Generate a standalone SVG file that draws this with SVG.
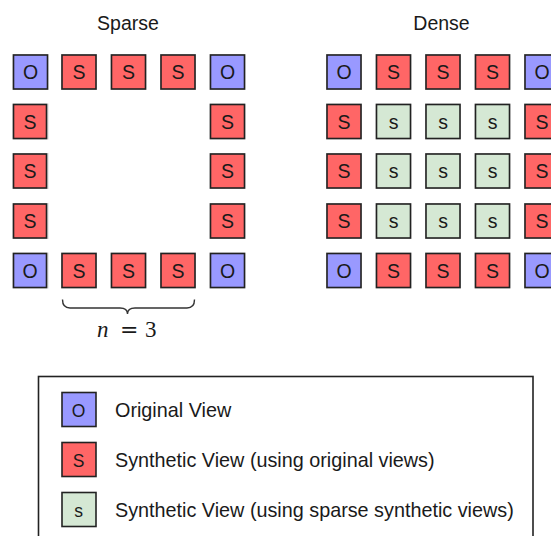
<svg xmlns="http://www.w3.org/2000/svg" width="551" height="536" viewBox="0 0 551 536">
<defs>
<style>
text{font-family:"Liberation Sans",Arial,sans-serif;fill:#1a1a1a}
.t{font-size:19.5px;text-anchor:middle}
.b{stroke:#222;stroke-width:1.6}
.sh{fill:#d6d6d6}
.O{fill:#9999ff}
.S{fill:#ff6666}
.g{fill:#d5e8d4}
.l{font-size:19.5px;text-anchor:middle}
.ll{font-size:17.5px;text-anchor:middle}
.lg{font-size:19.8px}
.m{font-family:"Liberation Serif","DejaVu Serif",serif;font-size:23px}
</style>
<g id="cell">
<rect class="sh" x="-1" y="-1" width="36" height="36"/>
</g>
</defs>
<rect width="551" height="536" fill="#fff"/>
<text class="t" x="128" y="30">Sparse</text>
<text class="t" x="441.5" y="30">Dense</text>

<g id="sparse">
<g id="sp-r0">
<g id="sp00"><use href="#cell" x="13.5" y="55"/><rect class="b O" x="13.5" y="55" width="34" height="34"/><text class="l" x="30.5" y="79">O</text></g>
<g id="sp01"><use href="#cell" x="62" y="55"/><rect class="b S" x="62" y="55" width="34" height="34"/><text class="l" x="79" y="79">S</text></g>
<g id="sp02"><use href="#cell" x="111.5" y="55"/><rect class="b S" x="111.5" y="55" width="34" height="34"/><text class="l" x="128.5" y="79">S</text></g>
<g id="sp03"><use href="#cell" x="161" y="55"/><rect class="b S" x="161" y="55" width="34" height="34"/><text class="l" x="178" y="79">S</text></g>
<g id="sp04"><use href="#cell" x="210.5" y="55"/><rect class="b O" x="210.5" y="55" width="34" height="34"/><text class="l" x="227.5" y="79">O</text></g>
</g>
<g id="sp10"><use href="#cell" x="13.5" y="104.5"/><rect class="b S" x="13.5" y="104.5" width="33" height="34"/><text class="l" x="30" y="128.5">S</text></g>
<g id="sp14"><use href="#cell" x="210.5" y="104.5"/><rect class="b S" x="210.5" y="104.5" width="34" height="34"/><text class="l" x="227.5" y="128.5">S</text></g>
<g id="sp20"><use href="#cell" x="13.5" y="154"/><rect class="b S" x="13.5" y="154" width="33" height="34"/><text class="l" x="30" y="178">S</text></g>
<g id="sp24"><use href="#cell" x="210.5" y="154"/><rect class="b S" x="210.5" y="154" width="34" height="34"/><text class="l" x="227.5" y="178">S</text></g>
<g id="sp30"><use href="#cell" x="13.5" y="204"/><rect class="b S" x="13.5" y="204" width="33" height="34"/><text class="l" x="30" y="228">S</text></g>
<g id="sp34"><use href="#cell" x="210.5" y="204"/><rect class="b S" x="210.5" y="204" width="34" height="34"/><text class="l" x="227.5" y="228">S</text></g>
<g id="sp-r4">
<g id="sp40"><use href="#cell" x="13.5" y="253.5"/><rect class="b O" x="13.5" y="253.5" width="33" height="34"/><text class="l" x="30" y="277.5">O</text></g>
<g id="sp41"><use href="#cell" x="62" y="253.5"/><rect class="b S" x="62" y="253.5" width="34" height="34"/><text class="l" x="79" y="277.5">S</text></g>
<g id="sp42"><use href="#cell" x="111.5" y="253.5"/><rect class="b S" x="111.5" y="253.5" width="34" height="34"/><text class="l" x="128.5" y="277.5">S</text></g>
<g id="sp43"><use href="#cell" x="161" y="253.5"/><rect class="b S" x="161" y="253.5" width="34" height="34"/><text class="l" x="178" y="277.5">S</text></g>
<g id="sp44"><use href="#cell" x="210.5" y="253.5"/><rect class="b O" x="210.5" y="253.5" width="34" height="34"/><text class="l" x="227.5" y="277.5">O</text></g>
</g>
</g>

<g id="brace">
<path d="M62.5,299.5 Q62.5,308 70,308 L120,308 Q127.5,308 127.5,314 Q127.5,308 135,308 L187,308 Q194.5,308 194.5,299.5" fill="none" stroke="#333" stroke-width="1.4"/>
<text class="m" x="97" y="337" font-style="italic">n</text>
<text x="120" y="337" style="font-family:'DejaVu Serif',serif;font-size:22px;font-weight:300">=</text>
<text class="m" x="145" y="337">3</text>
</g>

<g id="dense">
<g id="dn-r0">
<g id="d00"><use href="#cell" x="327" y="55"/><rect class="b O" x="327" y="55" width="34" height="34"/><text class="l" x="344" y="79">O</text></g>
<g id="d01"><use href="#cell" x="376.5" y="55"/><rect class="b S" x="376.5" y="55" width="34" height="34"/><text class="l" x="393.5" y="79">S</text></g>
<g id="d02"><use href="#cell" x="426" y="55"/><rect class="b S" x="426" y="55" width="34" height="34"/><text class="l" x="443" y="79">S</text></g>
<g id="d03"><use href="#cell" x="475.5" y="55"/><rect class="b S" x="475.5" y="55" width="34" height="34"/><text class="l" x="492.5" y="79">S</text></g>
<g id="d04"><use href="#cell" x="525" y="55"/><rect class="b O" x="525" y="55" width="34" height="34"/><text class="l" x="542" y="79">O</text></g>
</g>
<g id="dn-r1">
<g id="d10"><use href="#cell" x="327" y="104.5"/><rect class="b S" x="327" y="104.5" width="34" height="34"/><text class="l" x="344" y="128.5">S</text></g>
<g id="d11"><use href="#cell" x="376.5" y="104.5"/><rect class="b g" x="376.5" y="104.5" width="34" height="34"/><text class="l" x="393.5" y="128.5">s</text></g>
<g id="d12"><use href="#cell" x="426" y="104.5"/><rect class="b g" x="426" y="104.5" width="34" height="34"/><text class="l" x="443" y="128.5">s</text></g>
<g id="d13"><use href="#cell" x="475.5" y="104.5"/><rect class="b g" x="475.5" y="104.5" width="34" height="34"/><text class="l" x="492.5" y="128.5">s</text></g>
<g id="d14"><use href="#cell" x="525" y="104.5"/><rect class="b S" x="525" y="104.5" width="34" height="34"/><text class="l" x="542" y="128.5">S</text></g>
</g>
<g id="dn-r2">
<g id="d20"><use href="#cell" x="327" y="154"/><rect class="b S" x="327" y="154" width="34" height="34"/><text class="l" x="344" y="178">S</text></g>
<g id="d21"><use href="#cell" x="376.5" y="154"/><rect class="b g" x="376.5" y="154" width="34" height="34"/><text class="l" x="393.5" y="178">s</text></g>
<g id="d22"><use href="#cell" x="426" y="154"/><rect class="b g" x="426" y="154" width="34" height="34"/><text class="l" x="443" y="178">s</text></g>
<g id="d23"><use href="#cell" x="475.5" y="154"/><rect class="b g" x="475.5" y="154" width="34" height="34"/><text class="l" x="492.5" y="178">s</text></g>
<g id="d24"><use href="#cell" x="525" y="154"/><rect class="b S" x="525" y="154" width="34" height="34"/><text class="l" x="542" y="178">S</text></g>
</g>
<g id="dn-r3">
<g id="d30"><use href="#cell" x="327" y="204"/><rect class="b S" x="327" y="204" width="34" height="34"/><text class="l" x="344" y="228">S</text></g>
<g id="d31"><use href="#cell" x="376.5" y="204"/><rect class="b g" x="376.5" y="204" width="34" height="34"/><text class="l" x="393.5" y="228">s</text></g>
<g id="d32"><use href="#cell" x="426" y="204"/><rect class="b g" x="426" y="204" width="34" height="34"/><text class="l" x="443" y="228">s</text></g>
<g id="d33"><use href="#cell" x="475.5" y="204"/><rect class="b g" x="475.5" y="204" width="34" height="34"/><text class="l" x="492.5" y="228">s</text></g>
<g id="d34"><use href="#cell" x="525" y="204"/><rect class="b S" x="525" y="204" width="34" height="34"/><text class="l" x="542" y="228">S</text></g>
</g>
<g id="dn-r4">
<g id="d40"><use href="#cell" x="327" y="253.5"/><rect class="b O" x="327" y="253.5" width="34" height="34"/><text class="l" x="344" y="277.5">O</text></g>
<g id="d41"><use href="#cell" x="376.5" y="253.5"/><rect class="b S" x="376.5" y="253.5" width="34" height="34"/><text class="l" x="393.5" y="277.5">S</text></g>
<g id="d42"><use href="#cell" x="426" y="253.5"/><rect class="b S" x="426" y="253.5" width="34" height="34"/><text class="l" x="443" y="277.5">S</text></g>
<g id="d43"><use href="#cell" x="475.5" y="253.5"/><rect class="b S" x="475.5" y="253.5" width="34" height="34"/><text class="l" x="492.5" y="277.5">S</text></g>
<g id="d44"><use href="#cell" x="525" y="253.5"/><rect class="b O" x="525" y="253.5" width="34" height="34"/><text class="l" x="542" y="277.5">O</text></g>
</g>
</g>

<g id="legend">
<rect x="38.5" y="376.5" width="494.5" height="175" fill="#fff" stroke="#222" stroke-width="1.6"/>
<g id="lg-o"><rect class="b O" x="62" y="392.5" width="34" height="34"/><text class="ll" x="78.5" y="417">O</text><text class="lg" x="115" y="417">Original View</text></g>
<g id="lg-S"><rect class="b S" x="62" y="442.5" width="34" height="34"/><text class="ll" x="78.5" y="467">S</text><text class="lg" x="115" y="467">Synthetic View (using original views)</text></g>
<g id="lg-s"><rect class="b g" x="62" y="492.5" width="34" height="34"/><text class="ll" x="78.5" y="517">s</text><text class="lg" x="115" y="517">Synthetic View (using sparse synthetic views)</text></g>
</g>
</svg>
